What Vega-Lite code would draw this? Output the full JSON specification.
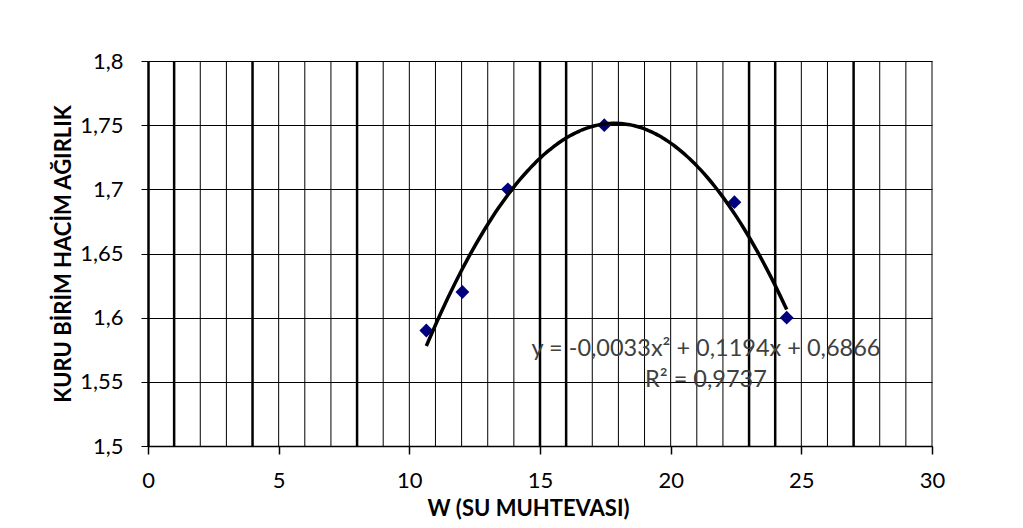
{
  "$schema": "https://vega.github.io/schema/vega-lite/v6.json",
  "width": 784,
  "height": 385,
  "autosize": "none",
  "padding": {"left": 148, "top": 61, "right": 91, "bottom": 82},
  "background": "white",
  "config": {"view": {"stroke": null}, "font": "Lato"},
  "datasets": {
    "points": [
      {"w": 10.65, "d": 1.59},
      {"w": 12.03, "d": 1.62},
      {"w": 13.77, "d": 1.70},
      {"w": 17.46, "d": 1.75},
      {"w": 22.44, "d": 1.69},
      {"w": 24.44, "d": 1.60}
    ],
    "grid": [
      {"w": 1}, {"w": 2}, {"w": 3}, {"w": 4}, {"w": 5}, {"w": 6}, {"w": 7}, {"w": 8}, {"w": 9}, {"w": 10},
      {"w": 11}, {"w": 12}, {"w": 13}, {"w": 14}, {"w": 15}, {"w": 16}, {"w": 17}, {"w": 18}, {"w": 19}, {"w": 20},
      {"w": 21}, {"w": 22}, {"w": 23}, {"w": 24}, {"w": 25}, {"w": 26}, {"w": 27}, {"w": 28}, {"w": 29}, {"w": 30}
    ],
    "thick": [
      {"w": 1}, {"w": 4}, {"w": 8}, {"w": 15}, {"w": 16}, {"w": 23}, {"w": 24}, {"w": 27}
    ],
    "notes": [
      {"w": 21.35, "d": 1.5756, "label": "y = -0,0033x² + 0,1194x + 0,6866"},
      {"w": 21.35, "d": 1.5514, "label": "R² = 0,9737"}
    ]
  },
  "encoding": {
    "x": {
      "field": "w", "type": "quantitative",
      "scale": {"domain": [0, 30], "nice": false, "zero": false},
      "axis": {
        "title": "W (SU MUHTEVASI)",
        "values": [0, 5, 10, 15, 20, 25, 30],
        "grid": false,
        "labelFlush": false,
        "domainColor": "black", "domainWidth": 1.5,
        "tickColor": "black", "tickSize": 8, "tickWidth": 1.5,
        "labelFontSize": 22, "labelColor": "black", "labelPadding": 16,
        "titleFontSize": 22, "titleFontWeight": "bold", "titleColor": "black", "titlePadding": 7,
        "titleX": 380
      }
    }
  },
  "layer": [
    {
      "data": {"name": "grid"},
      "mark": {"type": "rule", "color": "black", "strokeWidth": 1},
      "encoding": {}
    },
    {
      "data": {"name": "thick"},
      "mark": {"type": "rule", "color": "black", "strokeWidth": 2.5},
      "encoding": {}
    },
    {
      "data": {"name": "points"},
      "mark": {"type": "point", "shape": "diamond", "filled": true, "color": "#00007f", "size": 190, "opacity": 1},
      "encoding": {
        "y": {
          "field": "d", "type": "quantitative",
          "scale": {"domain": [1.5, 1.8], "nice": false, "zero": false},
          "axis": {
            "title": "KURU BİRİM HACİM AĞIRLIK",
            "values": [1.5, 1.55, 1.6, 1.65, 1.7, 1.75, 1.8],
            "labelExpr": "replace(format(datum.value, '.2~f'), '.', ',')",
            "labelFlush": false,
            "grid": true, "gridColor": "black", "gridWidth": 1, "gridOpacity": 1,
            "domainColor": "black", "domainWidth": 2.5,
            "tickColor": "black", "tickSize": 7, "tickWidth": 1,
            "labelFontSize": 22, "labelColor": "black", "labelPadding": 18,
            "titleFontSize": 22, "titleFontWeight": "bold", "titleColor": "black", "titlePadding": 4
          }
        }
      }
    },
    {
      "data": {"name": "points"},
      "transform": [{"regression": "d", "on": "w", "method": "poly", "order": 2}],
      "mark": {"type": "line", "color": "black", "strokeWidth": 3.5, "interpolate": "monotone"},
      "encoding": {
        "y": {"field": "d", "type": "quantitative"}
      }
    },
    {
      "data": {"name": "notes"},
      "mark": {"type": "text", "fontSize": 23.5, "color": "#404040", "align": "center", "baseline": "middle"},
      "encoding": {
        "y": {"field": "d", "type": "quantitative"},
        "text": {"field": "label"}
      }
    }
  ]
}
